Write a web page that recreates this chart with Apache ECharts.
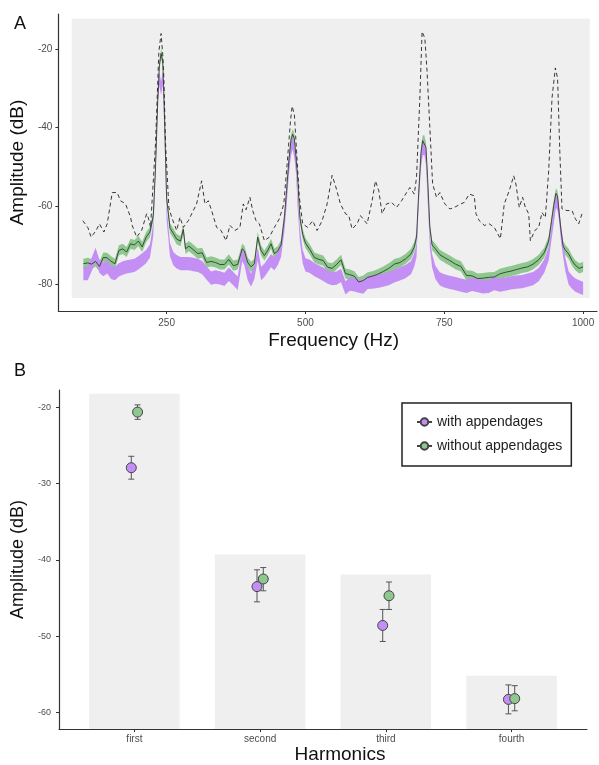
<!DOCTYPE html>
<html>
<head>
<meta charset="utf-8">
<script src="https://cdn.jsdelivr.net/npm/echarts@6/dist/echarts.min.js"></script>
<style>
  html, body { margin: 0; padding: 0; background: #fff; }
  #main { width: 599px; height: 765px; }
</style>
</head>
<body>
<div id="main"></div>
<script>
// --- panel A: spectra ---
var freqHz = [100,108,115,122,129,136,143,150,157,164,171,178,185,192,199,206,213,220,226,230,234,237,240,243,246,250,256,262,268,275,280,284,290,298,306,314,322,330,338,346,354,362,370,378,386,390,396,402,408,414,420,426,432,438,444,450,456,462,466,470,474,477,480,483,486,490,495,500,508,516,524,532,540,548,556,564,572,580,588,596,604,612,620,630,640,650,660,670,680,690,696,700,704,708,711,714,717,720,724,728,734,742,750,760,770,780,790,800,810,820,830,840,850,860,870,880,890,900,910,920,930,938,943,947,951,954,957,960,964,968,974,980,986,993,1000];
// without appendages (mean, green band)
var withoutSpec = [-74.8,-74.6,-74.9,-74.2,-75.5,-73.2,-73.3,-74.2,-74.8,-71.4,-71.0,-71.8,-69.7,-70.0,-69.0,-70.5,-68.0,-66.7,-62.5,-50.0,-33.0,-24.0,-21.0,-23.0,-36.0,-58.0,-65.7,-67.0,-68.5,-69.0,-66.0,-71.0,-70.3,-71.2,-72.2,-72.0,-74.5,-74.2,-74.5,-75.0,-75.0,-73.7,-75.3,-75.0,-71.0,-71.5,-74.5,-75.6,-74.8,-68.0,-71.4,-72.7,-71.4,-69.7,-72.2,-71.6,-70.0,-63.0,-56.0,-48.5,-43.0,-41.7,-42.8,-47.5,-53.0,-63.0,-67.3,-69.5,-71.2,-73.2,-73.7,-74.0,-75.7,-76.0,-75.0,-73.8,-77.3,-77.6,-78.0,-79.5,-79.1,-78.3,-78.0,-77.5,-76.8,-76.0,-74.9,-74.5,-73.6,-72.3,-70.5,-68.0,-56.5,-46.5,-43.3,-43.2,-45.0,-53.0,-65.5,-70.0,-71.0,-72.5,-73.2,-74.0,-74.9,-75.5,-77.8,-77.9,-78.6,-78.5,-78.3,-78.2,-77.4,-77.0,-76.7,-76.3,-75.9,-75.6,-74.9,-73.8,-72.0,-69.0,-64.0,-60.0,-56.8,-57.5,-62.0,-66.0,-70.3,-71.3,-72.3,-74.0,-75.2,-76.0,-75.6];
// with appendages (purple band)
var withSpec = [-77.3,-77.3,-75.0,-72.4,-75.5,-76.3,-75.6,-77.0,-77.3,-76.4,-75.9,-75.6,-75.4,-75.2,-74.6,-73.8,-73.0,-71.5,-66.0,-50.0,-32.0,-27.5,-29.9,-27.3,-40.0,-62.0,-71.2,-73.5,-74.3,-74.8,-74.8,-74.8,-74.8,-75.0,-75.2,-75.8,-77.2,-78.5,-78.2,-78.4,-78.8,-77.5,-78.6,-79.8,-72.5,-73.5,-77.3,-79.0,-77.0,-72.2,-77.3,-76.5,-75.2,-74.0,-74.8,-73.5,-71.4,-65.0,-58.5,-50.5,-45.5,-43.8,-46.0,-50.0,-59.0,-67.5,-73.0,-75.1,-75.5,-76.3,-76.9,-77.5,-78.2,-78.6,-78.5,-77.8,-81.0,-80.0,-80.2,-80.5,-80.8,-79.6,-79.5,-79.3,-79.0,-78.6,-77.9,-77.4,-76.8,-75.8,-73.8,-71.4,-57.8,-48.5,-45.5,-45.2,-47.8,-57.0,-69.0,-74.0,-77.0,-78.7,-79.2,-79.6,-79.9,-80.3,-80.6,-80.1,-80.4,-80.7,-80.6,-79.9,-80.3,-80.0,-79.7,-79.5,-79.4,-79.0,-78.6,-77.6,-75.4,-72.3,-67.0,-63.0,-58.8,-59.5,-62.5,-67.0,-71.4,-75.0,-78.5,-79.5,-80.3,-80.7,-81.1];
var withoutSE = 1.3;
var withSE = 1.7;
// dashed reference spectrum
var dashFreq = [99,108,114,123,129,137,143,152,161,167,176,185,188,196,205,214,217,221,230,236,240,243,245,248,254,259,268,274,280,289,298,304,313,319,325,331,340,348,357,364,373,382,388,393,400,405,411,417,426,435,444,453,461,467,473,476,480,484,489,495,504,513,521,530,539,548,554,563,572,578,584,593,599,611,620,626,632,638,646,655,664,673,682,688,696,700,706,710,715,719,724,729,736,742,751,760,768,780,786,795,804,807,813,822,831,840,851,858,867,875,879,885,891,896,902,905,913,920,926,932,938,944,950,954,958,962,971,980,986,992,998];
var dashAmp = [-63.8,-65.5,-68.0,-66.3,-64.6,-66.7,-64.6,-56.6,-56.6,-58.7,-59.5,-62.9,-65.0,-68.0,-66.3,-62.0,-63.0,-65.5,-44.0,-20.5,-15.9,-21.3,-27.3,-44.0,-60.4,-62.9,-66.3,-62.9,-65.5,-63.8,-61.2,-59.5,-53.6,-59.5,-58.7,-61.2,-65.5,-66.3,-68.9,-65.0,-66.3,-65.5,-59.5,-61.0,-57.8,-61.2,-63.8,-64.6,-68.9,-68.0,-65.5,-63.3,-59.5,-49.3,-38.3,-34.5,-36.6,-46.0,-57.8,-64.6,-65.5,-63.8,-66.3,-63.8,-59.5,-52.2,-54.8,-59.5,-62.0,-62.5,-65.9,-64.6,-62.5,-64.6,-58.7,-53.6,-56.1,-62.0,-59.5,-59.1,-60.4,-58.7,-56.6,-55.3,-57.0,-52.7,-32.4,-15.4,-17.1,-25.6,-40.0,-54.4,-57.8,-56.6,-59.5,-60.8,-60.4,-59.5,-59.1,-57.0,-57.4,-62.0,-63.8,-65.0,-64.6,-65.5,-68.4,-59.5,-56.1,-52.3,-54.4,-60.4,-57.8,-60.4,-62.0,-68.9,-66.3,-65.5,-61.7,-63.0,-51.0,-32.4,-24.7,-27.3,-46.0,-60.8,-61.2,-61.2,-63.3,-64.6,-62.0];
var ticksA_x = [250, 500, 750, 1000];
var ticksA_y = [-80, -60, -40, -20];

// --- panel B: harmonics ---
var harmonics = ['first', 'second', 'third', 'fourth'];
var barTop = [-18.2, -39.3, -41.9, -55.2];
var withMean = [-27.9, -43.5, -48.6, -58.3];
var withHi = [-26.4, -41.3, -46.5, -56.4];
var withLo = [-29.4, -45.5, -50.7, -60.2];
var withoutMean = [-20.6, -42.5, -44.7, -58.2];
var withoutHi = [-19.65, -41.0, -42.9, -56.5];
var withoutLo = [-21.55, -44.05, -46.5, -59.8];
var ticksB_y = [-60, -50, -40, -30, -20];

var PURPLE = '#c48ff4';
var GREEN = '#8fc88f';
var PANEL = '#efefef';
var tickFont = "'Liberation Sans Narrow', 'Liberation Sans', sans-serif";
var nameFont = "'Liberation Sans', Arial, sans-serif";

function bandData(mean, se) {
  return freqHz.map(function (f, i) { return [f, mean[i] - se, mean[i] + se]; });
}
// whole band drawn as one polygon on the first item
function bandRender(band, color) {
  return function (params, api) {
    if (params.dataIndex !== 0) return null;
    var up = [], down = [];
    for (var i = 0; i < band.length; i++) {
      up.push(api.coord([band[i][0], band[i][2]]));
      down.unshift(api.coord([band[i][0], band[i][1]]));
    }
    return {
      type: 'polygon',
      shape: { points: up.concat(down) },
      style: { fill: color, stroke: null }
    };
  };
}
var greenBand = bandData(withoutSpec, withoutSE);
var purpleBand = bandData(withSpec, withSE);

var DODGE = 0.025;
function pts(mean, off) { return mean.map(function (v, i) { return [i + 1 + off, v]; }); }
function errs(lo, hi, off) { return lo.map(function (v, i) { return [i + 1 + off, v, hi[i]]; }); }
function errRender(params, api) {
  var x = api.value(0);
  var a = api.coord([x, api.value(1)]);
  var b = api.coord([x, api.value(2)]);
  var st = { stroke: '#555', lineWidth: 1 };
  return {
    type: 'group',
    children: [
      { type: 'line', shape: { x1: a[0], y1: a[1], x2: b[0], y2: b[1] }, style: st },
      { type: 'line', shape: { x1: a[0] - 3, y1: a[1], x2: a[0] + 3, y2: a[1] }, style: st },
      { type: 'line', shape: { x1: b[0] - 3, y1: b[1], x2: b[0] + 3, y2: b[1] }, style: st }
    ]
  };
}

var axisLine = { show: true, onZero: false, lineStyle: { color: '#333', width: 1.2 } };
var tickLbl = { color: '#4d4d4d', fontSize: 10, fontFamily: tickFont };

var chart = echarts.init(document.getElementById('main'));
chart.setOption({
  animation: false,
  backgroundColor: '#fff',
  graphic: [
    { type: 'text', left: 14, top: 15, style: { text: 'A', fontSize: 18, fontFamily: nameFont, fill: '#111' } },
    { type: 'text', left: 14, top: 362, style: { text: 'B', fontSize: 18, fontFamily: nameFont, fill: '#111' } }
  ],
  legend: {
    data: ['with appendages', 'without appendages'],
    orient: 'vertical',
    left: 402, top: 403,
    padding: [12, 9, 13, 14],
    itemGap: 10,
    itemWidth: 15, itemHeight: 9,
    icon: 'path://M0,6L5,6M15,6L20,6M5,6A5,5 0 1 1 15,6A5,5 0 1 1 5,6Z',
    borderColor: '#222', borderWidth: 1.5, borderRadius: 0,
    backgroundColor: '#fff',
    textStyle: { fontSize: 14, color: '#222', fontFamily: nameFont }
  },
  grid: [
    { left: 54, right: 2, top: 14, height: 297 },
    { left: 59, right: 12, top: 390, height: 343 }
  ],
  xAxis: [
    {
      gridIndex: 0, type: 'value', min: 55, max: 1025,
      axisLine: axisLine,
      axisTick: { show: true, customValues: ticksA_x, length: 3, lineStyle: { color: '#333' } },
      axisLabel: Object.assign({ customValues: ticksA_x, margin: 7, formatter: function (v) { return String(v); } }, tickLbl),
      splitLine: { show: false },
      name: 'Frequency (Hz)', nameLocation: 'middle', nameGap: 20,
      nameTextStyle: { fontSize: 19, color: '#111', fontFamily: nameFont, padding: [0, 0, 0, 12] }
    },
    {
      gridIndex: 1, type: 'value', min: 0.4, max: 4.6,
      axisLine: axisLine,
      axisTick: { show: true, customValues: [1, 2, 3, 4], length: 3, lineStyle: { color: '#333' } },
      axisLabel: Object.assign({
        customValues: [1, 2, 3, 4], margin: 5,
        formatter: function (v) { return harmonics[Math.round(v) - 1]; }
      }, tickLbl),
      splitLine: { show: false },
      name: 'Harmonics', nameLocation: 'middle', nameGap: 14,
      nameTextStyle: { fontSize: 19, color: '#111', fontFamily: nameFont, padding: [0, 0, 0, 34] }
    }
  ],
  yAxis: [
    {
      gridIndex: 0, type: 'value', min: -86.9, max: -10.9,
      axisLine: axisLine,
      axisTick: { show: true, customValues: ticksA_y, length: 3, lineStyle: { color: '#333' } },
      axisLabel: Object.assign({ customValues: ticksA_y, margin: 6 }, tickLbl),
      splitLine: { show: false },
      name: 'Amplitude (dB)', nameLocation: 'middle', nameGap: 22,
      nameTextStyle: { fontSize: 19, color: '#111', fontFamily: nameFont }
    },
    {
      gridIndex: 1, type: 'value', min: -62.2, max: -17.7,
      axisLine: axisLine,
      axisTick: { show: true, customValues: ticksB_y, length: 3, lineStyle: { color: '#333' } },
      axisLabel: { customValues: ticksB_y, margin: 8, fontSize: 9, color: '#4d4d4d', fontFamily: tickFont },
      splitLine: { show: false },
      name: 'Amplitude (dB)', nameLocation: 'middle', nameGap: 24,
      nameTextStyle: { fontSize: 18, color: '#111', fontFamily: nameFont }
    }
  ],
  series: [
    // grey panel behind the spectra
    {
      type: 'custom', xAxisIndex: 0, yAxisIndex: 0, silent: true, z: 0,
      data: [[79, -83.6, 1012, -12.1]],
      renderItem: function (params, api) {
        var p0 = api.coord([api.value(0), api.value(3)]);
        var p1 = api.coord([api.value(2), api.value(1)]);
        return { type: 'rect', shape: { x: p0[0], y: p0[1], width: p1[0] - p0[0], height: p1[1] - p0[1] }, style: { fill: PANEL } };
      }
    },
    {
      type: 'custom', xAxisIndex: 0, yAxisIndex: 0, silent: true, z: 1,
      data: greenBand, renderItem: bandRender(greenBand, GREEN)
    },
    {
      type: 'custom', xAxisIndex: 0, yAxisIndex: 0, silent: true, z: 2,
      data: purpleBand, renderItem: bandRender(purpleBand, PURPLE)
    },
    {
      type: 'line', xAxisIndex: 0, yAxisIndex: 0, silent: true, z: 3,
      data: freqHz.map(function (f, i) { return [f, withoutSpec[i]]; }),
      showSymbol: false,
      lineStyle: { color: '#2a2a2a', width: 0.8 }
    },
    {
      type: 'line', xAxisIndex: 0, yAxisIndex: 0, silent: true, z: 4,
      data: dashFreq.map(function (f, i) { return [f, dashAmp[i]]; }),
      showSymbol: false,
      lineStyle: { color: '#222', width: 0.9, type: [4, 3] }
    },
    // panel B grey bars
    {
      type: 'custom', xAxisIndex: 1, yAxisIndex: 1, silent: true, z: 0,
      data: barTop.map(function (v, i) { return [i + 1, v]; }),
      renderItem: function (params, api) {
        var x = api.value(0);
        var p0 = api.coord([x - 0.36, api.value(1)]);
        var p1 = api.coord([x + 0.36, -62.2]);
        return { type: 'rect', shape: { x: p0[0], y: p0[1], width: p1[0] - p0[0], height: p1[1] - p0[1] }, style: { fill: PANEL } };
      }
    },
    {
      type: 'custom', xAxisIndex: 1, yAxisIndex: 1, silent: true, z: 2,
      data: errs(withLo, withHi, -DODGE), renderItem: errRender
    },
    {
      type: 'custom', xAxisIndex: 1, yAxisIndex: 1, silent: true, z: 2,
      data: errs(withoutLo, withoutHi, DODGE), renderItem: errRender
    },
    {
      name: 'with appendages', type: 'scatter', xAxisIndex: 1, yAxisIndex: 1, z: 3,
      data: pts(withMean, -DODGE), symbolSize: 10,
      itemStyle: { color: PURPLE, borderColor: '#444', borderWidth: 1, opacity: 1 }
    },
    {
      name: 'without appendages', type: 'scatter', xAxisIndex: 1, yAxisIndex: 1, z: 3,
      data: pts(withoutMean, DODGE), symbolSize: 10,
      itemStyle: { color: GREEN, borderColor: '#444', borderWidth: 1, opacity: 1 }
    }
  ]
});
</script>
</body>
</html>
